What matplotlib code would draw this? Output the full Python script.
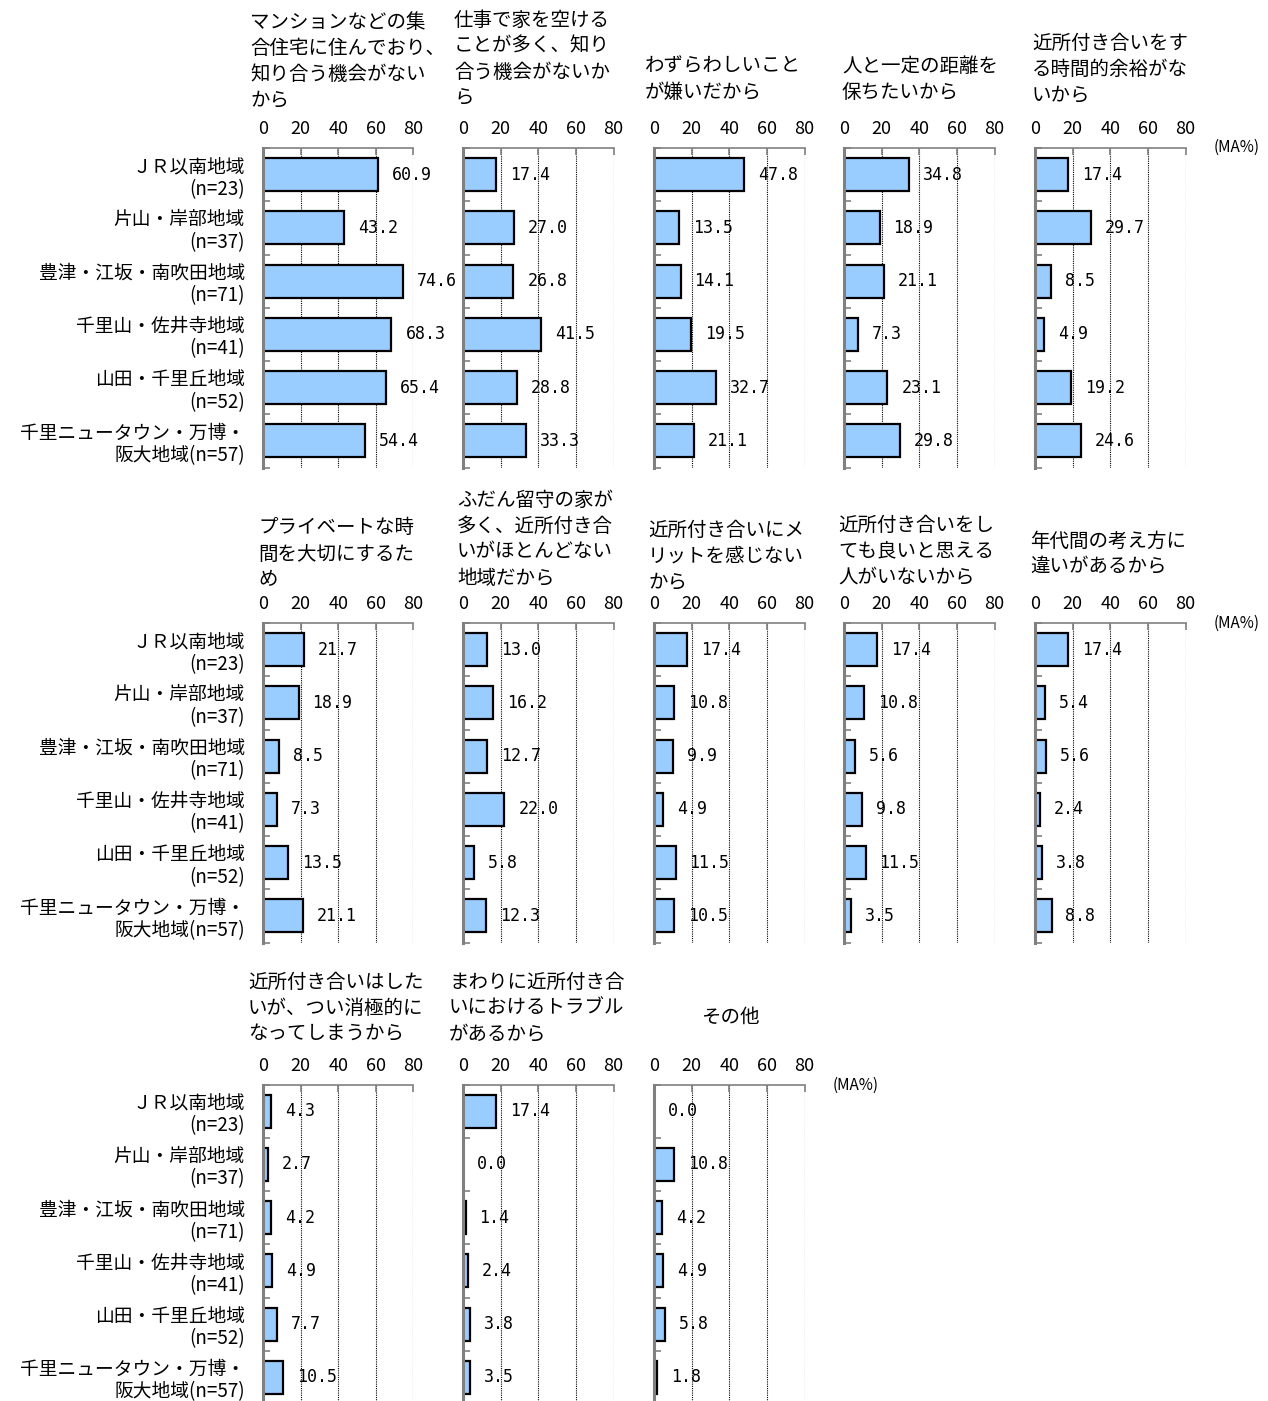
import matplotlib
matplotlib.use("Agg")
import matplotlib.pyplot as plt
import numpy as np

plt.rcParams['font.family'] = ['Noto Sans CJK JP', 'DejaVu Sans']

# ---------------- data ----------------
categories = ["ＪＲ以南地域\n(n=23)", "片山・岸部地域\n(n=37)", "豊津・江坂・南吹田地域\n(n=71)",
              "千里山・佐井寺地域\n(n=41)", "山田・千里丘地域\n(n=52)", "千里ニュータウン・万博・\n阪大地域(n=57)"]

titles = [
    "マンションなどの集\n合住宅に住んでおり、\n知り合う機会がない\nから",
    "仕事で家を空ける\nことが多く、知り\n合う機会がないか\nら",
    "わずらわしいこと\nが嫌いだから",
    "人と一定の距離を\n保ちたいから",
    "近所付き合いをす\nる時間的余裕がな\nいから",
    "プライベートな時\n間を大切にするた\nめ",
    "ふだん留守の家が\n多く、近所付き合\nいがほとんどない\n地域だから",
    "近所付き合いにメ\nリットを感じない\nから",
    "近所付き合いをし\nても良いと思える\n人がいないから",
    "年代間の考え方に\n違いがあるから",
    "近所付き合いはした\nいが、つい消極的に\nなってしまうから",
    "まわりに近所付き合\nいにおけるトラブル\nがあるから",
    "その他",
]

v_mansion   = [60.9, 43.2, 74.6, 68.3, 65.4, 54.4]
v_work      = [17.4, 27.0, 26.8, 41.5, 28.8, 33.3]
v_bother    = [47.8, 13.5, 14.1, 19.5, 32.7, 21.1]
v_distance  = [34.8, 18.9, 21.1, 7.3, 23.1, 29.8]
v_notime    = [17.4, 29.7, 8.5, 4.9, 19.2, 24.6]
v_private   = [21.7, 18.9, 8.5, 7.3, 13.5, 21.1]
v_absent    = [13.0, 16.2, 12.7, 22.0, 5.8, 12.3]
v_nomerit   = [17.4, 10.8, 9.9, 4.9, 11.5, 10.5]
v_noperson  = [17.4, 10.8, 5.6, 9.8, 11.5, 3.5]
v_gen       = [17.4, 5.4, 5.6, 2.4, 3.8, 8.8]
v_passive   = [4.3, 2.7, 4.2, 4.9, 7.7, 10.5]
v_trouble   = [17.4, 0.0, 1.4, 2.4, 3.8, 3.5]
v_other     = [0.0, 10.8, 4.2, 4.9, 5.8, 1.8]

series = [v_mansion, v_work, v_bother, v_distance, v_notime,
          v_private, v_absent, v_nomerit, v_noperson, v_gen,
          v_passive, v_trouble, v_other]

xticks = [0, 20, 40, 60, 80]
unit_label = "(MA%)"

# ---------------- layout (pixels) ----------------
W, H = 1268, 1401
fig = plt.figure(figsize=(W / 100, H / 100), dpi=100)

col_x = [263, 463, 654, 844, 1035]
ax_w = 150.5
row_top = [148, 623, 1084.5]
ax_h = 319.5

# title anchors: (left x, first-line center y, horizontal alignment)
title_pos = [
    (250, 22, 'left'), (454, 20, 'left'), (645, 66, 'left'), (842, 66, 'left'), (1032, 43, 'left'),
    (258, 528, 'left'), (457, 500, 'left'), (648, 530, 'left'), (838, 525, 'left'), (1030, 541, 'left'),
    (248, 982, 'left'), (449, 982, 'left'), (730, 1017, 'center'),
]
unit_pos = [(1237, 147), (1237, 623), (856, 1085)]
line_gap = 26

bar_color = '#99CCFF'
gray = '#808080'
n = len(categories)
ypos = np.arange(n)

for k, vals in enumerate(series):
    r, c = divmod(k, 5)
    left = col_x[c]
    top = row_top[r]
    ax = fig.add_axes([left / W, 1 - (top + ax_h) / H, ax_w / W, ax_h / H])
    ax.barh(ypos, vals, height=0.62, color=bar_color, edgecolor='black', linewidth=1.6, zorder=2)
    ax.set_xlim(0, 80)
    ax.set_ylim(n - 0.5, -0.5)
    ax.set_xticks(xticks)
    ax.xaxis.tick_top()
    ax.tick_params(axis='x', which='major', direction='in', length=5, width=1.2,
                   color=gray, pad=7, labelsize=13)
    ax.grid(axis='x', linestyle=(0, (1, 1)), color='black', linewidth=0.8, zorder=1)
    ax.set_axisbelow(True)
    for s in ['right', 'bottom']:
        ax.spines[s].set_visible(False)
    ax.spines['left'].set_color(gray)
    ax.spines['left'].set_linewidth(2.2)
    ax.spines['top'].set_color(gray)
    ax.spines['top'].set_linewidth(1.2)
    ax.set_yticks(ypos)
    ax.set_yticks(np.arange(-0.5, n, 1.0), minor=True)
    ax.tick_params(axis='y', which='minor', direction='in', length=5, width=1.2, color=gray)
    if c == 0:
        ax.set_yticklabels(categories, fontsize=13.5, linespacing=1.1)
        ax.tick_params(axis='y', which='major', length=0, pad=13)
    else:
        ax.set_yticklabels([])
        ax.tick_params(axis='y', which='major', length=0)
    for i, v in enumerate(vals):
        ax.annotate(f"{v:.1f}", xy=(v, i), xytext=(10, 0), textcoords='offset points',
                    va='center', ha='left', fontsize=12, family='DejaVu Sans Mono', zorder=3)

    tx, ty, tha = title_pos[k]
    for j, line in enumerate(titles[k].split('\n')):
        fig.text(tx / W, 1 - (ty + j * line_gap) / H, line, fontsize=14,
                 ha=tha, va='center')

for ux, uy in unit_pos:
    fig.text(ux / W, 1 - uy / H, unit_label, fontsize=11, ha='center', va='center')

fig.savefig("out.png", dpi=100)
